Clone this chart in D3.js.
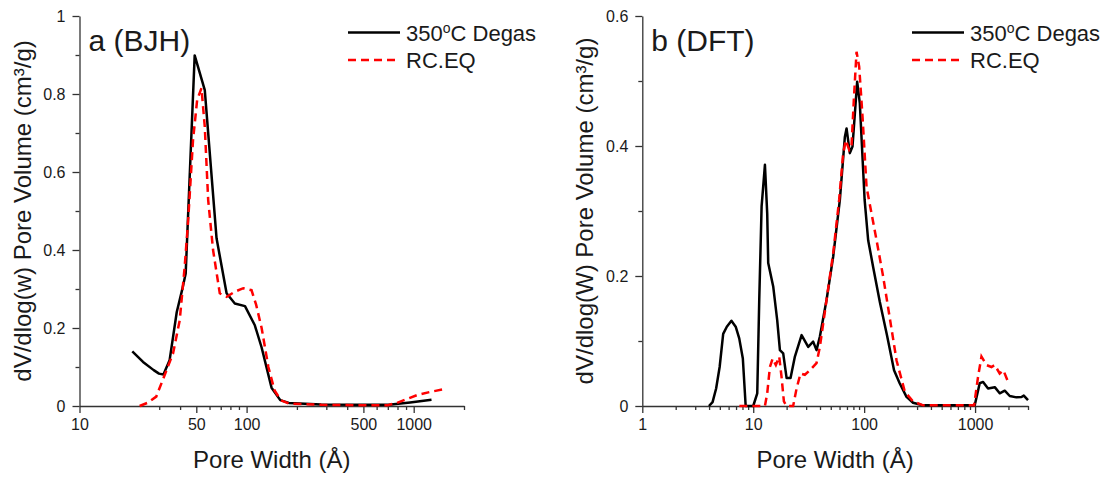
<!DOCTYPE html>
<html>
<head>
<meta charset="utf-8">
<script src="https://cdn.jsdelivr.net/npm/d3@7"></script>
<style>
  html, body { margin: 0; padding: 0; background: #fff; }
  svg text { font-family: Arial, "Liberation Sans", sans-serif; fill: #1a1a1a; }
</style>
</head>
<body>
<svg id="chart" width="1109" height="481"></svg>
<script>
// ---------- data ----------
const seriesNames = ["350", "RC.EQ"];

// Panel a (BJH)
const bjhDegasW = [20.7, 24.0, 27.8, 29.9, 31.8, 34.6, 38.2, 41.1, 43.2, 48.9, 56.2, 66.1, 75.9, 85.0, 97.8, 112, 123, 141, 159, 179, 279, 456, 709, 952, 1278];
const bjhDegasV = [0.140, 0.113, 0.092, 0.083, 0.081, 0.117, 0.241, 0.297, 0.340, 0.899, 0.810, 0.430, 0.289, 0.263, 0.256, 0.207, 0.150, 0.047, 0.015, 0.008, 0.004, 0.003, 0.003, 0.009, 0.016];
const bjhRceqW = [22.9, 25.5, 28.8, 32.3, 36.3, 39.8, 42.6, 44.6, 47.8, 50.6, 53.7, 56.2, 58.9, 63.0, 69.1, 75.9, 85.0, 95.5, 107, 114, 123, 135, 147, 160, 180, 280, 450, 700, 794, 900, 1047, 1250, 1513];
const bjhRceqV = [0.000, 0.008, 0.024, 0.079, 0.135, 0.220, 0.357, 0.470, 0.682, 0.785, 0.815, 0.716, 0.528, 0.400, 0.289, 0.280, 0.293, 0.302, 0.297, 0.260, 0.200, 0.100, 0.040, 0.015, 0.006, 0.003, 0.002, 0.002, 0.008, 0.017, 0.028, 0.036, 0.043];

// Panel b (DFT)
const dftDegasW = [3.99, 4.30, 4.63, 4.98, 5.36, 5.78, 6.36, 6.95, 7.48, 8.06, 8.55, 10.0, 10.87, 11.33, 11.9, 12.75, 13.37, 13.65, 15.14, 16.45, 17.4, 18.63, 20.0, 21.7, 23.75, 27.3, 31.3, 34.7, 37.2, 39.9, 45.8, 52.6, 60.4, 67.0, 69.4, 74.3, 78.5, 86.5, 91.4, 101, 108.7, 120.5, 138.5, 161, 186, 209, 241, 276, 340, 500, 800, 993, 1101, 1181, 1309, 1505, 1667, 1852, 2054, 2360, 2618, 2750, 3000];
const dftDegasV = [0, 0.006, 0.027, 0.060, 0.111, 0.122, 0.131, 0.122, 0.104, 0.073, 0, 0, 0.0195, 0.163, 0.307, 0.371, 0.296, 0.220, 0.184, 0.132, 0.086, 0.081, 0.043, 0.043, 0.076, 0.109, 0.091, 0.099, 0.086, 0.107, 0.163, 0.230, 0.317, 0.414, 0.427, 0.389, 0.399, 0.499, 0.466, 0.317, 0.255, 0.214, 0.160, 0.108, 0.055, 0.035, 0.014, 0.005, 0.001, 0.001, 0.001, 0.001, 0.035, 0.037, 0.027, 0.029, 0.0195, 0.0236, 0.0154, 0.0133, 0.0138, 0.016, 0.009];
const dftRceqW = [7.5, 12.75, 13.37, 14.14, 14.96, 16.0, 17.15, 18.0, 18.9, 20.0, 22.9, 24.6, 26.7, 29.2, 32.4, 37.2, 39.9, 45.8, 52.6, 59.5, 64.7, 68.4, 73.3, 76.9, 80.7, 85.4, 90.2, 96.7, 105.1, 116.6, 129.4, 148.4, 170.4, 196, 232.6, 276, 340, 500, 800, 980, 1064, 1142, 1267, 1406, 1505, 1667, 1800, 1983];
const dftRceqV = [0, 0, 0.0195, 0.060, 0.073, 0.063, 0.076, 0.045, 0.007, 0, 0, 0.027, 0.050, 0.048, 0.055, 0.066, 0.091, 0.163, 0.235, 0.317, 0.389, 0.409, 0.394, 0.399, 0.471, 0.545, 0.522, 0.445, 0.337, 0.296, 0.255, 0.199, 0.135, 0.070, 0.022, 0.007, 0.001, 0.001, 0.001, 0.001, 0.045, 0.076, 0.063, 0.060, 0.063, 0.050, 0.055, 0.037];

// Ticks
const bjhXMajor = [10, 50, 100, 500, 1000];
const bjhXMinor = [30, 40, 60, 70, 80, 90, 200, 300, 400, 600, 700, 800, 900, 2000];
const bjhYMajor = [0, 0.2, 0.4, 0.6, 0.8, 1];
const bjhYMinor = [0.1, 0.3, 0.5, 0.7, 0.9];
const dftXMajor = [1, 10, 100, 1000];
const dftXMinor = [2, 3, 4, 5, 6, 7, 8, 9, 20, 30, 40, 50, 60, 70, 80, 90, 200, 300, 400, 500, 600, 700, 800, 900, 2000, 3000];
const dftYMajor = [0, 0.2, 0.4, 0.6];
const dftYMinor = [0.1, 0.3, 0.5];

const panelLabels = ["a (BJH)", "b (DFT)"];
const yTitles = ["dV/dlog(w) Pore Volume (cm³/g)", "dV/dlog(W) Pore Volume (cm³/g)"];
const xTitle = "Pore Width (Å)";

// ---------- drawing ----------
const svg = d3.select("#chart");
const zip = (a, b) => a.map((v, i) => [v, b[i]]);

const panels = [
  { left: 79.5, right: 464, xDomain: [10, 2000], yDomain: [0, 1],
    xMajor: bjhXMajor, xMinor: bjhXMinor, yMajor: bjhYMajor, yMinor: bjhYMinor,
    degas: zip(bjhDegasW, bjhDegasV), rceq: zip(bjhRceqW, bjhRceqV),
    label: panelLabels[0], yTitle: yTitles[0] },
  { left: 642.3, right: 1028, xDomain: [1, 3000], yDomain: [0, 0.6],
    xMajor: dftXMajor, xMinor: dftXMinor, yMajor: dftYMajor, yMinor: dftYMinor,
    degas: zip(dftDegasW, dftDegasV), rceq: zip(dftRceqW, dftRceqV),
    label: panelLabels[1], yTitle: yTitles[1] }
];
const plotTop = 16, plotBottom = 406;
const axisColor = "#333";

panels.forEach(p => {
  const x = d3.scaleLog().domain(p.xDomain).range([p.left, p.right]);
  const y = d3.scaleLinear().domain(p.yDomain).range([plotBottom, plotTop]);
  const g = svg.append("g");

  // minor ticks
  g.append("g").attr("transform", `translate(0,${plotBottom})`)
    .call(d3.axisBottom(x).tickValues(p.xMinor).tickSize(4).tickFormat(""))
    .call(a => a.select(".domain").remove());
  g.append("g").attr("transform", `translate(${p.left},0)`)
    .call(d3.axisLeft(y).tickValues(p.yMinor).tickSize(4).tickFormat(""))
    .call(a => a.select(".domain").remove());

  // major x axis
  g.append("g").attr("transform", `translate(0,${plotBottom})`)
    .call(d3.axisBottom(x).tickValues(p.xMajor).tickSize(7).tickSizeOuter(0).tickPadding(6)
      .tickFormat(d3.format("d")));
  // major y axis
  g.append("g").attr("transform", `translate(${p.left},0)`)
    .call(d3.axisLeft(y).tickValues(p.yMajor).tickSize(7).tickSizeOuter(0).tickPadding(7)
      .tickFormat(d => String(+d.toFixed(1))));

  g.selectAll(".tick line").attr("stroke", axisColor).attr("stroke-width", 1.3);
  g.selectAll(".domain").attr("stroke", axisColor).attr("stroke-width", 1.3);
  g.selectAll(".tick text").attr("font-size", 16).attr("fill", "#1a1a1a")
    .attr("font-family", "Arial, 'Liberation Sans', sans-serif");

  // lines
  const line = d3.line().x(d => x(d[0])).y(d => y(d[1]));
  g.append("path").datum(p.degas).attr("d", line)
    .attr("fill", "none").attr("stroke", "#000").attr("stroke-width", 2.5)
    .attr("stroke-linejoin", "round");
  g.append("path").datum(p.rceq).attr("d", line)
    .attr("fill", "none").attr("stroke", "#ff0000").attr("stroke-width", 2.5)
    .attr("stroke-dasharray", "8,5");

  // panel label
  g.append("text").attr("x", p.left + 9).attr("y", 51).attr("font-size", 30).text(p.label);

  // legend
  const lx0 = p.right - 116, lx1 = p.right - 64, tx = p.right - 58;
  g.append("line").attr("x1", lx0).attr("x2", lx1).attr("y1", 32.5).attr("y2", 32.5)
    .attr("stroke", "#000").attr("stroke-width", 2.5);
  const t1 = g.append("text").attr("x", tx).attr("y", 40.5).attr("font-size", 22);
  t1.append("tspan").text(seriesNames[0]);
  t1.append("tspan").attr("font-size", 14).attr("dy", -8).text("o");
  t1.append("tspan").attr("dy", 8).text("C Degas");
  g.append("line").attr("x1", lx0).attr("x2", lx1).attr("y1", 60).attr("y2", 60)
    .attr("stroke", "#ff0000").attr("stroke-width", 2.5).attr("stroke-dasharray", "8,5");
  g.append("text").attr("x", tx).attr("y", 68).attr("font-size", 22).text(seriesNames[1]);

  // axis titles
  g.append("text").attr("x", (p.left + p.right) / 2).attr("y", 468)
    .attr("text-anchor", "middle").attr("font-size", 24).text(xTitle);
  g.append("text").attr("transform", `translate(${p.left - 49},${(plotTop + plotBottom) / 2}) rotate(-90)`)
    .attr("text-anchor", "middle").attr("font-size", 24).text(p.yTitle);
});
</script>
</body>
</html>
